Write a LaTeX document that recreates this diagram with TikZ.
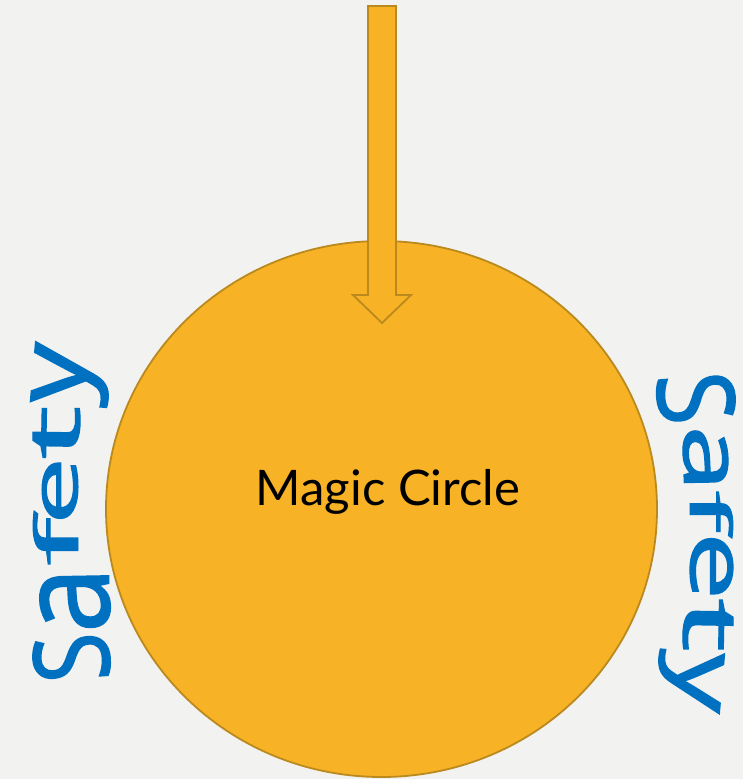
\documentclass[tikz,border=0pt]{standalone}
\usepackage{fontspec}
\usepackage{graphicx}
\setmainfont{Lato}
\newfontfamily\safetyfont{Open Sans}[FakeBold=1.5]
\definecolor{bggray}{HTML}{F2F2F1}
\definecolor{gold}{HTML}{F7B226}
\definecolor{golddark}{HTML}{BA8A1E}
\definecolor{safeblue}{HTML}{0070C0}
% one warped letter of the word art: width along text, total height
\newcommand{\warpletter}[3]{\resizebox*{#1pt}{#2pt}{\safetyfont #3}}

\begin{document}
\begin{tikzpicture}[x=1pt, y=-1pt,
  ring/.style={draw=golddark, fill=gold, line width=1.8pt},
  letter/.style={text=safeblue, inner ysep=0pt, inner xsep=-6pt}]
\fill[bggray] (0,0) rectangle (743,779);
\useasboundingbox (0,0) rectangle (743,779);
\clip (0,0) rectangle (743,779);
\draw[ring] (381.5,509) ellipse [x radius=275.5, y radius=268];
\draw[ring, line join=miter] (368,6) -- (396,6) -- (396,295) -- (411,295)
  -- (382,323) -- (353,295) -- (368,295) -- cycle;
\node[anchor=base, font=\fontsize{49}{49}\selectfont] (title) at (388,505) {Magic Circle};
% left word, read upwards
\node[letter, rotate=94] (l1) at (71.5,658)   {\warpletter{49}{77}{S}};
\node[letter, rotate=91] (l2) at (75,600)     {\warpletter{66}{70}{a}};
\node[letter, rotate=90] (l3) at (55.5,541.5) {\warpletter{48}{45}{f}};
\node[letter, rotate=90] (l4) at (60,491)     {\warpletter{68}{36}{e}};
\node[letter, rotate=89] (l5) at (56.5,432.5) {\warpletter{54}{47}{t}};
\node[letter, rotate=85] (l6) at (71.5,375)   {\warpletter{60}{77}{y}};
% right word, read downwards
\node[letter, rotate=-85] (r1) at (696,398)     {\warpletter{52}{78}{S}};
\node[letter, rotate=-89] (r2) at (705.5,458.5) {\warpletter{66}{45}{a}};
\node[letter, rotate=-90] (r3) at (711.5,511.5) {\warpletter{42}{43}{f}};
\node[letter, rotate=-90] (r4) at (711.5,566)   {\warpletter{68}{43}{e}};
\node[letter, rotate=-91] (r5) at (708,625)     {\warpletter{54}{50}{t}};
\node[letter, rotate=-95] (r6) at (689.5,681)   {\warpletter{60}{65}{y}};
\end{tikzpicture}
\end{document}
